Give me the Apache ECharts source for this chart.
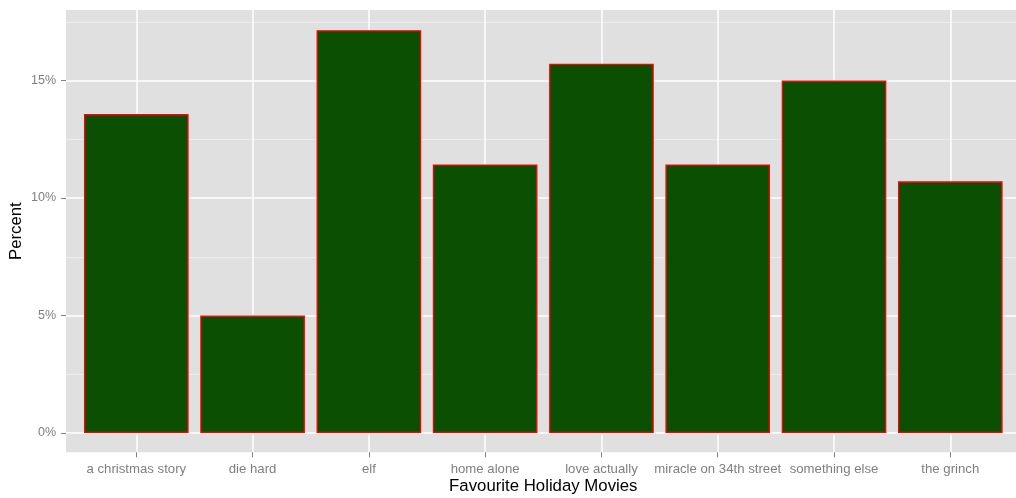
<!DOCTYPE html>
<html>
<head>
<meta charset="utf-8">
<script src="https://cdn.jsdelivr.net/npm/echarts@6/dist/echarts.min.js"></script>
<style>html,body{margin:0;padding:0;background:#fff}#c{width:1016px;height:498px}</style>
</head>
<body>
<div id="c"></div>
<script>
const categories = ['a christmas story','die hard','elf','home alone','love actually','miracle on 34th street','something else','the grinch'];
const percents = [13.57, 5.0, 17.14, 11.43, 15.71, 11.43, 15.0, 10.71];
const yMajor = [0, 5, 10, 15];
const yMinor = [2.5, 7.5, 12.5, 17.5];
const yMin = -0.82, yMax = 18.0;

const font = '"Liberation Sans", Arial, Helvetica, sans-serif';
const chart = echarts.init(document.getElementById('c'), null, {renderer: 'canvas'});
chart.setOption({
  animation: false,
  backgroundColor: '#ffffff',
  grid: [
    {left: 136.3, right: 65.7, top: 10, bottom: 45.7, outerBoundsMode: 'none', containLabel: false},
    {left: 66, right: -4, top: 10, bottom: 45.7, show: true, backgroundColor: '#e0e0e0', borderWidth: 0,
     outerBoundsMode: 'none', containLabel: false}
  ],
  xAxis: [
    {
      type: 'category', gridIndex: 0, data: categories, boundaryGap: false, position: 'bottom',
      name: 'Favourite Holiday Movies', nameLocation: 'middle', nameGap: 26, nameMoveOverlap: false,
      nameTextStyle: {color: '#000', fontSize: 16.8, fontFamily: font},
      axisLine: {show: false, onZero: false},
      axisTick: {show: true, length: 5, lineStyle: {color: '#7f7f7f', width: 1}},
      axisLabel: {color: '#7f7f7f', fontSize: 13.2, fontFamily: font, margin: 11, interval: 0},
      splitLine: {show: true, lineStyle: {color: '#ffffff', width: 1.5}}
    },
    {type: 'value', gridIndex: 1, min: 0, max: 1, show: false, axisLine: {onZero: false}}
  ],
  yAxis: [
    {
      type: 'value', gridIndex: 1, min: yMin, max: yMax,
      name: 'Percent', nameLocation: 'middle', nameGap: 41, nameRotate: 90, nameMoveOverlap: false,
      nameTextStyle: {color: '#000', fontSize: 16.8, fontFamily: font},
      axisLine: {show: false, onZero: false},
      axisTick: {show: true, length: 5, customValues: yMajor, lineStyle: {color: '#7f7f7f', width: 1}},
      axisLabel: {color: '#7f7f7f', fontSize: 12.5, fontFamily: font, margin: 10, customValues: yMajor,
                  formatter: v => v + '%'},
      splitLine: {show: true, lineStyle: {color: '#ffffff', width: 1.5}}
    },
    {type: 'value', gridIndex: 0, min: yMin, max: yMax, show: false, axisLine: {onZero: false}, splitLine: {show: false}},
    {
      type: 'value', gridIndex: 1, min: yMin, max: yMax,
      axisLine: {show: false, onZero: false},
      axisTick: {show: false, customValues: yMinor},
      axisLabel: {show: false, customValues: yMinor},
      splitLine: {show: true, lineStyle: {color: '#efefef', width: 0.8}}
    }
  ],
  series: [{
    type: 'bar', xAxisIndex: 0, yAxisIndex: 1, data: percents,
    barCategoryGap: '10%', clip: false,
    itemStyle: {color: '#0b5002', borderColor: '#ff0000', borderWidth: 1.3},
    z: 5
  }]
});
</script>
</body>
</html>
